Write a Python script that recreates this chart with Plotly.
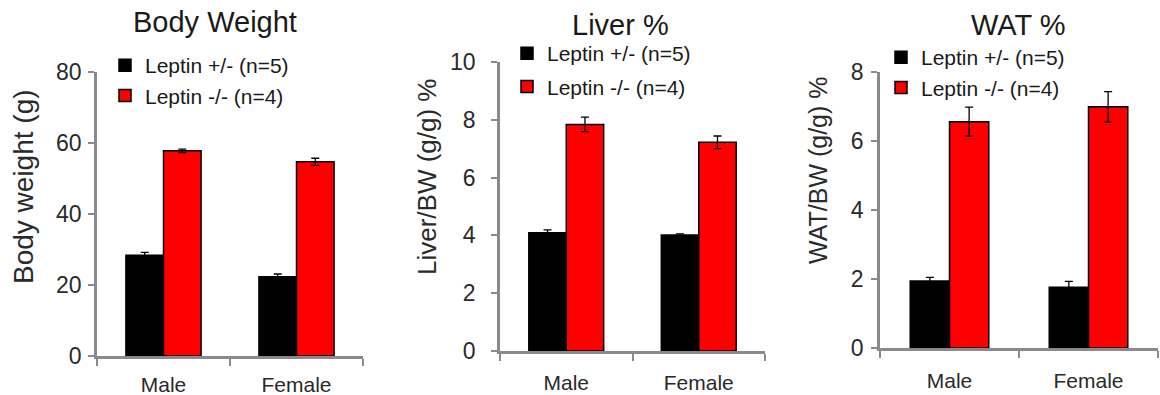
import plotly.graph_objects as go

W, H = 1160, 395

categories = ["Male", "Female"]
series_names = ["Leptin +/- (n=5)", "Leptin -/- (n=4)"]
series_colors = ["#000000", "#ff0000"]

# Body weight (g)
bw_het = [28.4, 22.3]
bw_het_err = [0.8, 0.8]
bw_ko = [57.8, 54.7]
bw_ko_err = [0.5, 1.0]

# Liver / BW (%)
liver_het = [4.09, 4.01]
liver_het_err = [0.1, 0.04]
liver_ko = [7.84, 7.22]
liver_ko_err = [0.25, 0.22]

# WAT / BW (%)
wat_het = [1.94, 1.76]
wat_het_err = [0.11, 0.17]
wat_ko = [6.56, 6.99]
wat_ko_err = [0.42, 0.44]

titles = ["Body Weight", "Liver %", "WAT %"]
ylabels = ["Body weight (g)", "Liver/BW (g/g) %", "WAT/BW (g/g) %"]
yranges = [[0, 80], [0, 10], [0, 8]]
ydticks = [20, 2, 2]

# layout geometry in pixels
xdom_px = [(97, 363), (500, 765), (880, 1158)]
ydom_px = [(356, 72), (351, 62), (348, 72)]
ytick_standoff = [2, 11, 3]
xtick_standoff = [8, 11, 12]
title_pos = [(215, 22), (620, 25), (1018, 25)]
ylabel_pos = [(23, 187), (427, 177), (818, 170)]
ylabel_size = [28, 26, 25]
legend_pos = [(105, 45), (507, 33), (881, 37)]
legend_gap = [0, 3, 0]

def px(x):
    return x / W

def py(y):
    return 1 - y / H

data_sets = [
    (bw_het, bw_het_err, bw_ko, bw_ko_err),
    (liver_het, liver_het_err, liver_ko, liver_ko_err),
    (wat_het, wat_het_err, wat_ko, wat_ko_err),
]

fig = go.Figure()
axis_color = "#8a8a8a"
font_family = "Liberation Sans, Arial, sans-serif"
text_color = "#2a2a2a"

for i, (het, het_err, ko, ko_err) in enumerate(data_sets):
    xa = "x" if i == 0 else f"x{i+1}"
    ya = "y" if i == 0 else f"y{i+1}"
    lg = "legend" if i == 0 else f"legend{i+1}"
    for j, (vals, errs) in enumerate([(het, het_err), (ko, ko_err)]):
        fig.add_trace(go.Bar(
            x=categories, y=vals, name=series_names[j],
            marker=dict(color=series_colors[j], line=dict(color="black", width=1.5)),
            error_y=dict(type="data", array=errs, color="black", thickness=1.3, width=4),
            xaxis=xa, yaxis=ya, legend=lg, legendgroup=f"{i}-{j}",
        ))

layout = dict(
    width=W, height=H,
    margin=dict(l=0, r=0, t=0, b=0, autoexpand=False),
    paper_bgcolor="white", plot_bgcolor="white",
    barmode="group", bargap=0.435, bargroupgap=0,
    font=dict(family=font_family, color=text_color),
    annotations=[],
)

for i in range(3):
    xk = "xaxis" if i == 0 else f"xaxis{i+1}"
    yk = "yaxis" if i == 0 else f"yaxis{i+1}"
    ya = "y" if i == 0 else f"y{i+1}"
    xa = "x" if i == 0 else f"x{i+1}"
    layout[xk] = dict(
        domain=[px(xdom_px[i][0]), px(xdom_px[i][1])], anchor=ya, automargin=False,
        showline=True, linecolor=axis_color, linewidth=2.5,
        ticks="outside", tickson="boundaries", ticklen=7, tickwidth=2, tickcolor=axis_color,
        tickfont=dict(size=21, color=text_color), ticklabelstandoff=xtick_standoff[i],
        showgrid=False, zeroline=False, fixedrange=True,
    )
    layout[yk] = dict(
        domain=[py(ydom_px[i][0]), py(ydom_px[i][1])], anchor=xa, automargin=False,
        range=yranges[i], dtick=ydticks[i],
        showline=True, linecolor=axis_color, linewidth=2.5,
        ticks="outside", ticklen=6, tickwidth=2, tickcolor=axis_color,
        tickfont=dict(size=23, color=text_color), ticklabelstandoff=ytick_standoff[i],
        showgrid=False, zeroline=False, fixedrange=True,
    )
    lk = "legend" if i == 0 else f"legend{i+1}"
    layout[lk] = dict(
        x=px(legend_pos[i][0]), y=py(legend_pos[i][1]), xanchor="left", yanchor="top",
        bgcolor="rgba(0,0,0,0)", font=dict(size=21, color="#1a1a1a"),
        traceorder="grouped", tracegroupgap=legend_gap[i], itemclick=False,
    )
    layout["annotations"].append(dict(
        text=titles[i], x=px(title_pos[i][0]), y=py(title_pos[i][1]),
        xref="paper", yref="paper", showarrow=False,
        xanchor="center", yanchor="middle", font=dict(size=29, color="#1a1a1a"),
    ))
    layout["annotations"].append(dict(
        text=ylabels[i], x=px(ylabel_pos[i][0]), y=py(ylabel_pos[i][1]),
        xref="paper", yref="paper", showarrow=False, textangle=-90,
        xanchor="center", yanchor="middle", font=dict(size=ylabel_size[i], color=text_color),
    ))

fig.update_layout(**layout)
fig.write_html("out.html")
